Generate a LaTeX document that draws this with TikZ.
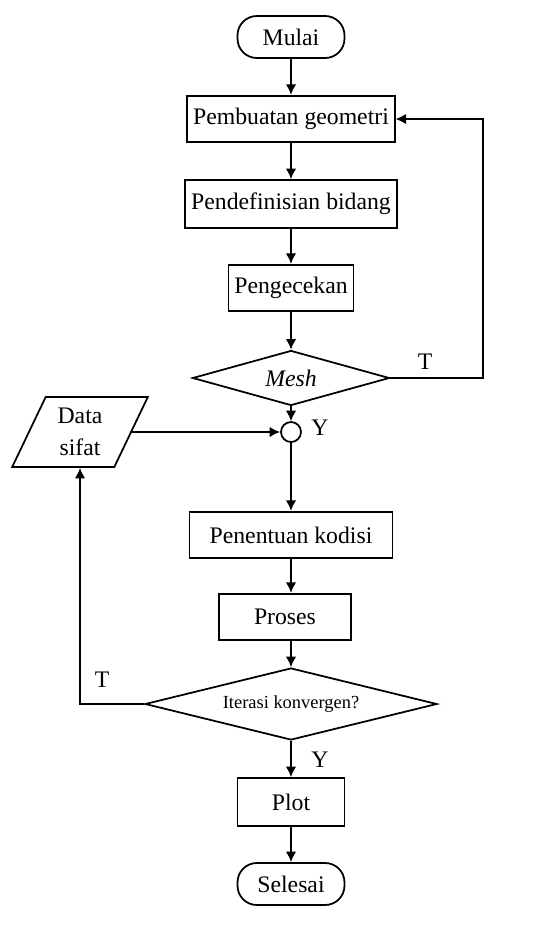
\documentclass[tikz,border=0pt]{standalone}
\usepackage{fontspec}
\setmainfont{Liberation Serif}
\usetikzlibrary{shapes.geometric,arrows.meta}
\begin{document}
\begin{tikzpicture}[x=0.02cm,y=-0.02cm,
        every node/.style={font=\fontsize{13.5}{18}\selectfont},
        box/.style={shape=rectangle,draw=black,line width=1pt,minimum height=0.93cm},
        term/.style={box,rounded corners=11pt,minimum width=2.14cm,minimum height=0.84cm},
        cond/.style={shape=diamond,draw=black,line width=1pt,inner sep=0pt,aspect=4},
        data/.style={shape=trapezium,trapezium left angle=65,trapezium right angle=115,
            trapezium stretches=true,draw=black,line width=1pt,align=center,
            minimum width=2.72cm,minimum height=1.4cm},
        arr/.style={-{Latex[length=6pt,width=6pt]},line width=1pt}]
            \useasboundingbox (0,0) rectangle (559,941);

            \node[term] (A) at (291,37) {Mulai};
            \node[box,minimum width=4.14cm] (B) at (291,119) {Pembuatan geometri};
            \node[box,minimum width=4.14cm,minimum height=0.96cm] (C) at (291,204) {Pendefinisian bidang};
            \node[box,minimum width=2.44cm] (D) at (291,288) {Pengecekan};
            \node[cond,minimum width=3.94cm,minimum height=1.1cm] (E) at (291,378) {\textit{Mesh}};
            \node[shape=circle,draw=black,line width=1pt,minimum size=0.4cm,inner sep=0pt] (F) at (291,432) {};
            \node[data] (G) at (80,432) {Data\\sifat};
            \node[box,minimum width=4.06cm] (H) at (291,535) {Penentuan kodisi};
            \node[box,minimum width=2.64cm] (I) at (285,617) {Proses};
            \node[cond,minimum width=5.84cm,minimum height=1.44cm,
                font=\fontsize{10.5}{12}\selectfont] (J) at (291,704) {Iterasi konvergen?};
            \node[box,minimum width=2.14cm,minimum height=0.96cm] (K) at (291,802) {Plot};
            \node[term] (L) at (291,884) {Selesai};

            \coordinate (R) at (483,378);

            % labels
            \node (T1) at (425,362) {T};
            \node (Y1) at (320,428) {Y};
            \node (T2) at (102,680) {T};
            \node (Y2) at (320,760) {Y};

            \path[arr] (A) edge (B);
            \path[arr] (B) edge (C);
            \path[arr] (C) edge (D);
            \path[arr] (D) edge (E);
            \path[arr] (E) edge (F);
            \path[arr] (G) edge (F);
            \path[arr] (F) edge (H);
            \path[arr] (H.south) edge (I.north -| H.south);
            \path[arr] (I.south -| J.north) edge (J.north);
            \path[arr] (J) edge (K);
            \path[arr] (K) edge (L);
            \draw[arr] (E.east) -- (R) |- (B.east);
            \draw[arr] (J.west) -| (G);
        \end{tikzpicture}
\end{document}
